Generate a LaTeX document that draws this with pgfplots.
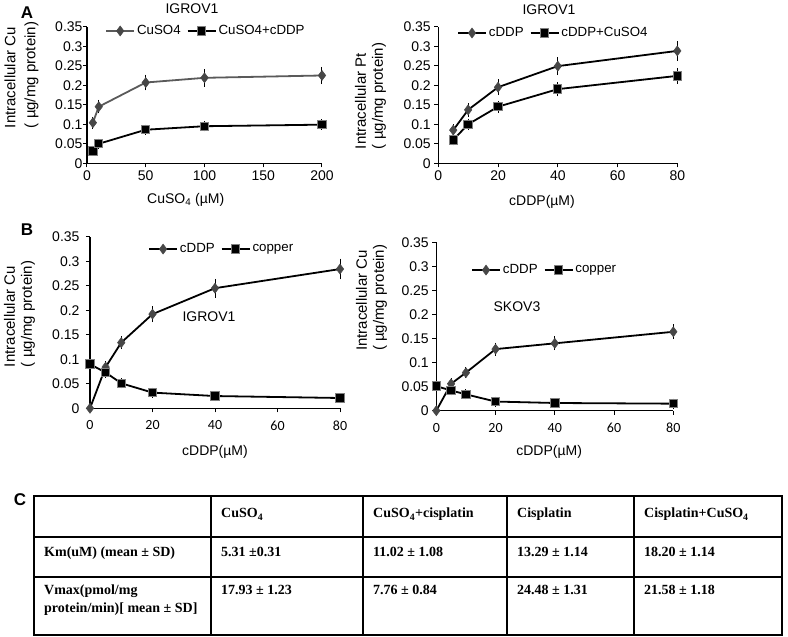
\documentclass[border=0pt]{standalone}
\usepackage{fontspec}
\setmainfont{Liberation Sans}
\newfontfamily\tabfont{Liberation Serif}
\newfontfamily\calfont{Carlito}
\usepackage{pgfplots}
\pgfplotsset{compat=1.18}
\definecolor{dia}{HTML}{474747}
\definecolor{sqedge}{HTML}{808080}
\definecolor{lgray}{HTML}{5A5A5A}
\newcommand\fs{\fontsize{14}{16.5}\selectfont}
\pgfplotsset{
  base/.style={
    scale only axis,
    axis lines=left,
    axis line style={-, line width=1.2pt, black},
    tick align=outside,
    major tick length=4pt,
    tick style={line width=1pt, black},
    ymin=0, ymax=0.35,
    ytick={0,0.05,0.1,0.15,0.2,0.25,0.3,0.35},
    yticklabels={0,0.05,0.1,0.15,0.2,0.25,0.3,0.35},
    tick label style={font=\fs},
    label style={font=\fontsize{15}{17}\selectfont},
    xlabel style={font=\fs},
    title style={font=\fs},
    clip=false,
    legend style={draw=none, fill=none, inner sep=0pt, anchor=west, legend columns=-1,
      font=\fontsize{13.3}{16}\selectfont,
      nodes={inner xsep=2pt, inner ysep=1pt},
      /tikz/every even column/.append style={column sep=4pt}},
    legend image code/.code={\draw[mark repeat=2, mark phase=2] plot coordinates {(0pt,0pt) (14pt,0pt) (28pt,0pt)};},
    ylabel style={align=left, anchor=center},
  },
  dser/.style={color=black, line width=1.8pt, mark=diamond*, mark size=5pt, mark options={fill=dia, draw=dia, line width=0.5pt}},
  sser/.style={color=black, line width=1.8pt, mark=square*, mark size=4.2pt, mark options={fill=black, draw=sqedge, line width=1pt}},
  ebar/.style={error bars/.cd, y dir=both, y explicit, error bar style={line width=1pt, black}, error mark options={line width=1pt, mark size=4pt, black}},
}
\begin{document}
\begin{tikzpicture}[x=1pt,y=1pt,font=\fs]
\useasboundingbox (0pt,0pt) rectangle (788pt,637pt);
% ---------- A left
\begin{axis}[base, at={(87pt,473.7pt)}, anchor=south west, width=235pt, height=136.6pt,
  xmin=0, xmax=200, xtick={0,50,100,150,200}, xticklabels={0,50,100,150,200},
  yticklabel style={xshift=3pt},
  title={IGROV1}, title style={at={(axis description cs:0.447,1.135)}, anchor=center, yshift=-6pt},
  xlabel={CuSO\textsubscript{4} (µM)}, xlabel style={at={(axis description cs:0.42,-0.269)}, anchor=center},
  ylabel={Intracellular Cu\\[3pt]( µg/mg protein)}, ylabel style={at={(axis description cs:-0.279,0.646)}},
  legend style={at={(axis description cs:0.077,0.969)}}]
\addplot[dser, color=lgray, ebar] coordinates {(5,0.104) +- (0,0.005) (10,0.145) +- (0,0.007) (50,0.207) +- (0,0.010) (100,0.219) +- (0,0.012) (200,0.225) +- (0,0.012)};
\addlegendentry{CuSO4}
\addplot[sser, ebar] coordinates {(5,0.032) +- (0,0.003) (10,0.050) +- (0,0.003) (50,0.086) +- (0,0.003) (100,0.095) +- (0,0.003) (200,0.099) +- (0,0.003)};
\addlegendentry{CuSO4+cDDP}
\end{axis}
% ---------- A right
\begin{axis}[base, at={(438.3pt,473.7pt)}, anchor=south west, width=239pt, height=136.6pt,
  xmin=0, xmax=80, xtick={0,20,40,60,80}, xticklabels={0,20,40,60,80},
  title={IGROV1}, title style={at={(axis description cs:0.463,1.122)}, anchor=center, yshift=-6pt},
  xlabel={cDDP(µM)}, xlabel style={at={(axis description cs:0.434,-0.283)}, anchor=center},
  ylabel={Intracellular Pt\\( µg/mg protein)}, ylabel style={at={(axis description cs:-0.284,0.493)}},
  legend style={at={(axis description cs:0.078,0.954)}}]
\addplot[dser, ebar] coordinates {(5,0.085) +- (0,0.005) (10,0.137) +- (0,0.007) (20,0.195) +- (0,0.010) (40,0.249) +- (0,0.013) (80,0.288) +- (0,0.015)};
\addlegendentry{cDDP}
\addplot[sser, ebar] coordinates {(5,0.060) +- (0,0.004) (10,0.100) +- (0,0.004) (20,0.145) +- (0,0.005) (40,0.190) +- (0,0.008) (80,0.224) +- (0,0.010)};
\addlegendentry{cDDP+CuSO4}
\end{axis}
% ---------- B left
\begin{axis}[base, at={(90pt,228.7pt)}, anchor=south west, width=250pt, height=171.6pt,
  xmin=0, xmax=80, xtick={0,20,40,60,80}, xticklabels={0,20,40,60,80},
  xticklabel style={font=\calfont\fontsize{14}{16}\selectfont, yshift=-5pt},
  yticklabel style={xshift=-3pt},
  xlabel={cDDP(µM)}, xlabel style={at={(axis description cs:0.5,-0.255)}, anchor=center},
  ylabel={Intracellular Cu\\( µg/mg protein)}, ylabel style={at={(axis description cs:-0.282,0.55)}},
  legend style={at={(axis description cs:0.232,0.928)}}]
\addplot[dser, ebar] coordinates {(0,0) +- (0,0) (5,0.084) +- (0,0.004) (10,0.134) +- (0,0.005) (20,0.192) +- (0,0.008) (40,0.245) +- (0,0.011) (80,0.284) +- (0,0.013)};
\addlegendentry{cDDP}
\addplot[sser, ebar] coordinates {(0,0.090) +- (0,0.003) (5,0.073) +- (0,0.003) (10,0.051) +- (0,0.002) (20,0.032) +- (0,0.002) (40,0.025) +- (0,0.002) (80,0.021) +- (0,0.002)};
\addlegendentry{copper}
\end{axis}
% ---------- B right
\begin{axis}[base, at={(436.3pt,226.3pt)}, anchor=south west, width=237pt, height=168.4pt,
  xmin=0, xmax=80, xtick={0,20,40,60,80}, xticklabels={0,20,40,60,80},
  xticklabel style={font=\calfont\fontsize{14}{16}\selectfont, yshift=-5pt},
  xlabel={cDDP(µM)}, xlabel style={at={(axis description cs:0.476,-0.245)}, anchor=center},
  ylabel={Intracellular Cu\\( µg/mg protein)}, ylabel style={at={(axis description cs:-0.273,0.67)}},
  legend style={at={(axis description cs:0.146,0.835)}}]
\addplot[dser, ebar] coordinates {(0,0) +- (0,0) (5,0.056) +- (0,0.003) (10,0.079) +- (0,0.003) (20,0.128) +- (0,0.005) (40,0.140) +- (0,0.006) (80,0.164) +- (0,0.007)};
\addlegendentry{cDDP}
\addplot[sser, ebar] coordinates {(0,0.051) +- (0,0.002) (5,0.042) +- (0,0.002) (10,0.034) +- (0,0.002) (20,0.019) +- (0,0.002) (40,0.016) +- (0,0.002) (80,0.0146) +- (0,0.002)};
\addlegendentry{copper}
\end{axis}
% ---------- panel letters and in-plot labels
\node[font=\bfseries\fontsize{17}{17}\selectfont] at (27pt,624pt) {A};
\node[font=\bfseries\fontsize{17}{17}\selectfont] at (27pt,407pt) {B};
\node[font=\bfseries\fontsize{17}{17}\selectfont] at (20pt,137pt) {C};
\node at (209pt,320pt) {IGROV1};
\node at (517pt,330pt) {SKOV3};
% ---------- table C
\begin{scope}[line width=1.6pt]
\draw (34pt,2pt) rectangle (782pt,141pt);
\draw (34pt,100pt) -- (782pt,100pt);
\draw (34pt,60pt) -- (782pt,60pt);
\foreach \cx in {211,363,507,634} \draw (\cx pt,2pt) -- (\cx pt,141pt);
\end{scope}
\begin{scope}[every node/.style={anchor=base west, inner sep=0pt, font=\tabfont\bfseries\fontsize{14}{16}\selectfont}]
\node at (221pt,119pt) {CuSO\textsubscript{4}};
\node at (373pt,119pt) {CuSO\textsubscript{4}+cisplatin};
\node at (517pt,119pt) {Cisplatin};
\node at (644pt,119pt) {Cisplatin+CuSO\textsubscript{4}};
\node at (44pt,80pt) {Km(uM) (mean ± SD)};
\node at (221pt,80pt) {5.31 ±0.31};
\node at (373pt,80pt) {11.02 ± 1.08};
\node at (517pt,80pt) {13.29 ± 1.14};
\node at (644pt,80pt) {18.20 ± 1.14};
\node at (44pt,42pt) {Vmax(pmol/mg};
\node at (44pt,24pt) {protein/min)[ mean ± SD]};
\node at (221pt,42pt) {17.93 ± 1.23};
\node at (373pt,42pt) {7.76 ± 0.84};
\node at (517pt,42pt) {24.48 ± 1.31};
\node at (644pt,42pt) {21.58 ± 1.18};
\end{scope}
\end{tikzpicture}
\end{document}
